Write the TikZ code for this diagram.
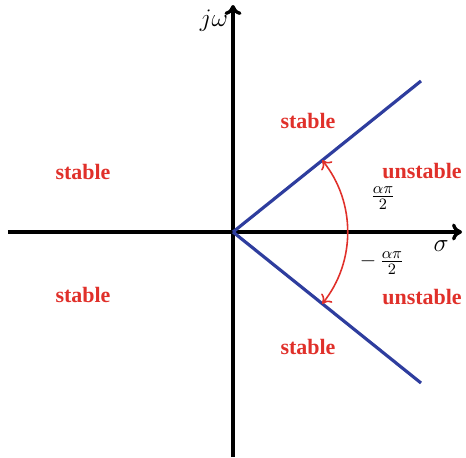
\documentclass[tikz,border=0pt]{standalone}
\usepackage{amsmath,amssymb}
\usepackage{fontspec}
\setmainfont{Liberation Serif}
\usetikzlibrary{arrows.meta}
\definecolor{regred}{HTML}{E0302A}
\definecolor{lineblue}{HTML}{2E3D9E}

\begin{document}
\begin{tikzpicture}[x=0.02cm, y=0.02cm,
  axis/.style={line width=1.9pt, -{Computer Modern Rightarrow[length=2mm, width=3.4mm]}},
  bound/.style={lineblue, line width=1.8pt},
  region/.style={text=regred, font=\fontsize{12.5}{14}\selectfont\bfseries, inner sep=0.5pt},
  lbl/.style={font=\fontsize{15}{17}\selectfont},
  frac/.style={font=\fontsize{13}{15}\selectfont, inner sep=0.5pt}]

% Frame
\useasboundingbox (-233,-225) rectangle (233,232);

% Axes
\coordinate (O) at (0,0);
\coordinate (xl) at (-225,0);
\coordinate (xr) at (229,0);
\coordinate (yb) at (0,-225);
\coordinate (yt) at (0,227);
\draw[axis] (xl) -- (xr);
\draw[axis] (yb) -- (yt);
\node[lbl] (jw) at (-19,211) {$j\omega$};
\node[lbl] (sig) at (208,-14) {$\sigma$};

% Stability boundary
\coordinate (up) at (188,151);
\coordinate (dn) at (188,-151);
\draw[bound] (O) -- (up);
\draw[bound] (O) -- (dn);

% Angle arc
\draw[regred, line width=0.9pt, {Computer Modern Rightarrow[length=1.6mm, width=2.8mm]}-{Computer Modern Rightarrow[length=1.6mm, width=2.8mm]}]
  (38.8:114.5) arc[start angle=38.8, end angle=-38.8, radius=114.5];
\node[frac] (pos) at (150,34) {$\frac{\alpha\pi}{2}$};
\node[frac] (neg) at (149,-31) {$-\,\frac{\alpha\pi}{2}$};

% Regions
\node[region] (s1) at (-150,60) {stable};
\node[region] (s2) at (-150,-63) {stable};
\node[region] (s3) at (75,111) {stable};
\node[region] (s4) at (75,-115) {stable};
\node[region] (u1) at (189,61) {unstable};
\node[region] (u2) at (189,-65) {unstable};

\end{tikzpicture}
\end{document}
